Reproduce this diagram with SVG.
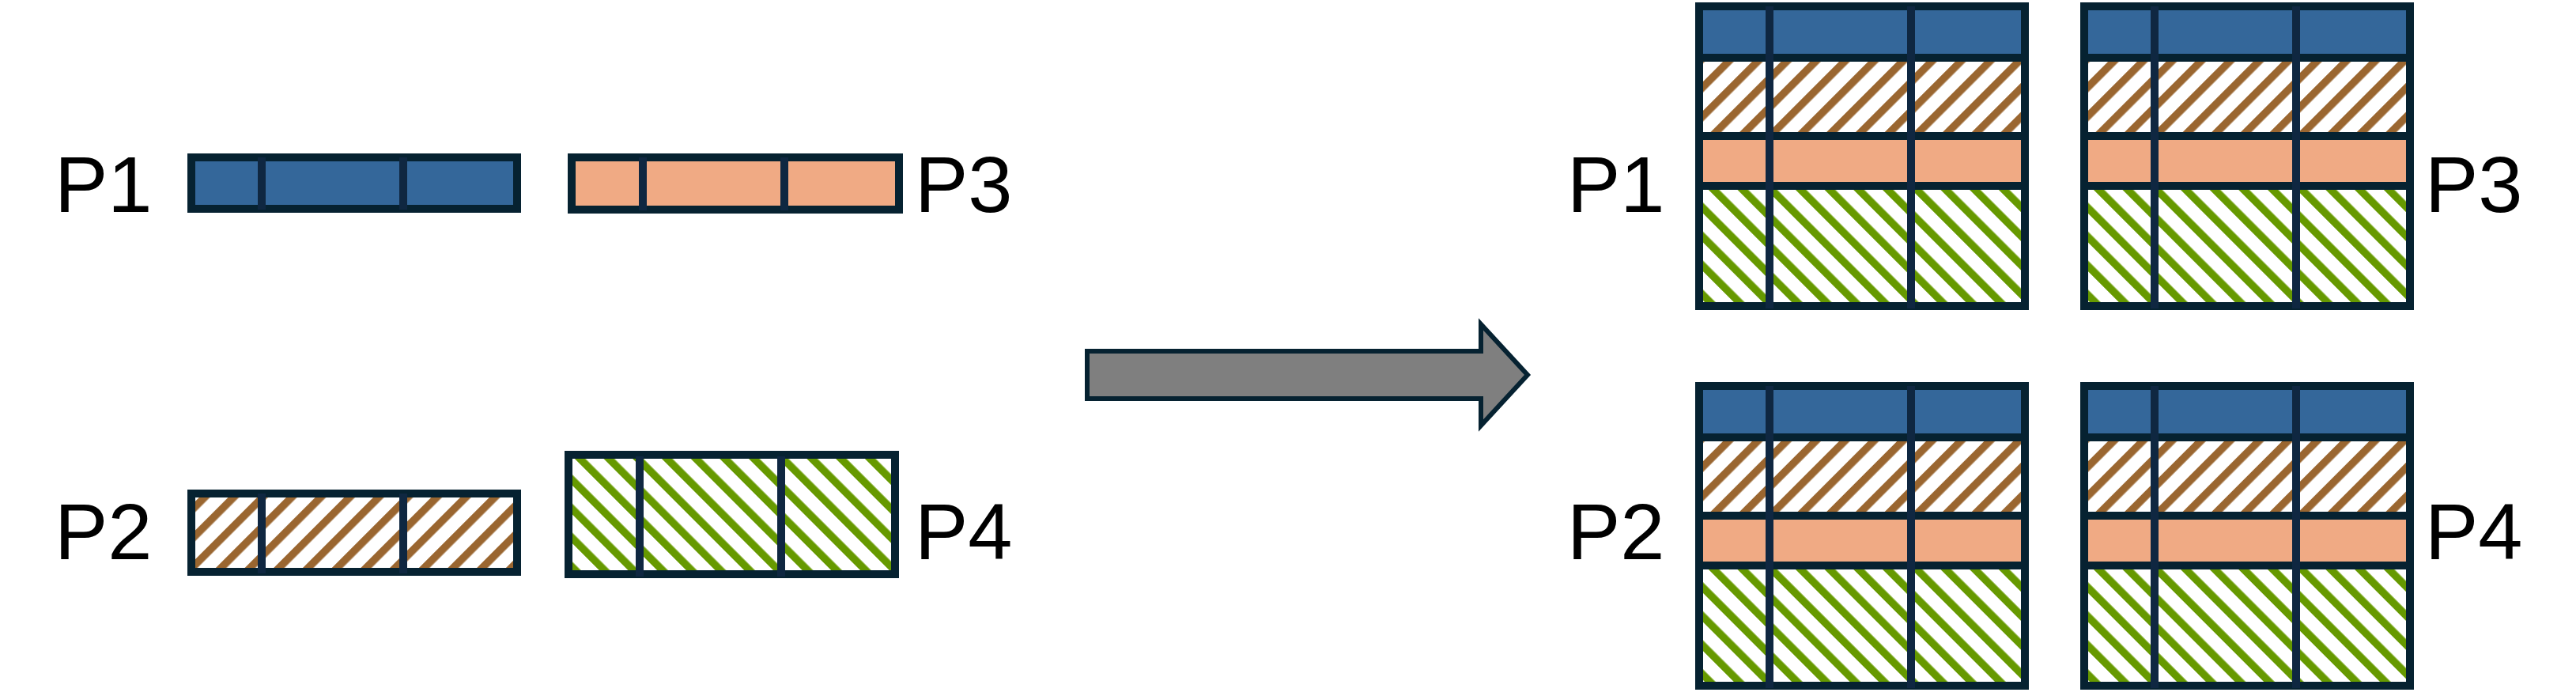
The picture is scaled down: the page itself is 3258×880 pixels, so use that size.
<svg xmlns="http://www.w3.org/2000/svg" xmlns:xlink="http://www.w3.org/1999/xlink" width="3258" height="880" viewBox="0 0 3258 880">
<style>
.lbl{font-family:"Liberation Sans",Arial,sans-serif;font-size:101px;fill:#000}
.border{fill:none;stroke:#062231;stroke-width:10}
.sep{stroke:#062231;stroke-width:10}
.div{stroke:#0f2741;stroke-width:10}
.blue{fill:#34679a}
.orange{fill:#f0aa84}
.brown{fill:url(#hatchBrown)}
.green{fill:url(#hatchGreen)}
</style>
<defs>
<pattern id="hatchBrown" patternUnits="userSpaceOnUse" width="25.95" height="25.95" patternTransform="rotate(45)">
<rect width="25.95" height="25.95" fill="#fff"/>
<rect x="0" y="0" width="9.6" height="25.95" fill="#9a6630"/>
</pattern>
<pattern id="hatchGreen" patternUnits="userSpaceOnUse" width="25.95" height="25.95" patternTransform="rotate(-45)">
<rect width="25.95" height="25.95" fill="#fff"/>
<rect x="0" y="0" width="9.6" height="25.95" fill="#669900"/>
</pattern>
<g id="grid">
<rect class="blue" x="5" y="5" width="412" height="65"/>
<rect class="brown" x="5" y="70" width="412" height="99"/>
<rect class="orange" x="5" y="169" width="412" height="63"/>
<rect class="green" x="5" y="232" width="412" height="152"/>
<line class="sep" x1="5" y1="70" x2="417" y2="70"/>
<line class="sep" x1="5" y1="169" x2="417" y2="169"/>
<line class="sep" x1="5" y1="232" x2="417" y2="232"/>
<rect class="border" x="5" y="5" width="412" height="379"/>
<line class="div" x1="94" y1="5" x2="94" y2="387"/>
<line class="div" x1="273" y1="5" x2="273" y2="387"/>
</g>
</defs>
<rect width="3258" height="880" fill="#fff"/>

<g id="node-p1-bar">
<rect class="blue" x="242" y="199" width="412" height="65"/>
<rect class="border" x="242" y="199" width="412" height="65"/>
<line class="div" x1="331" y1="199" x2="331" y2="265"/>
<line class="div" x1="510" y1="199" x2="510" y2="265"/>
<text class="lbl" x="69" y="268">P1</text>
</g>

<g id="node-p3-bar">
<rect class="orange" x="723" y="199" width="414" height="66"/>
<rect class="border" x="723" y="199" width="414" height="66"/>
<line class="div" x1="813" y1="199" x2="813" y2="266"/>
<line class="div" x1="992" y1="199" x2="992" y2="266"/>
<text class="lbl" x="1157" y="268">P3</text>
</g>

<g id="node-p2-bar">
<rect class="brown" x="242" y="624" width="412" height="99"/>
<rect class="border" x="242" y="624" width="412" height="99"/>
<line class="div" x1="331" y1="624" x2="331" y2="725"/>
<line class="div" x1="510" y1="624" x2="510" y2="725"/>
<text class="lbl" x="69" y="707">P2</text>
</g>

<g id="node-p4-bar">
<rect class="green" x="719" y="575" width="413" height="151"/>
<rect class="border" x="719" y="575" width="413" height="151"/>
<line class="div" x1="809" y1="577" x2="809" y2="729"/>
<line class="div" x1="988" y1="577" x2="988" y2="729"/>
<text class="lbl" x="1157" y="707">P4</text>
</g>

<g id="connectors">
<polygon points="1375,444 1873,444 1873,410 1932,474 1873,538 1873,504 1375,504" fill="#7f7f7f" stroke="#062231" stroke-width="6" stroke-linejoin="miter"/>
</g>

<g id="node-p1-grid">
<use xlink:href="#grid" href="#grid" x="2144" y="3"/>
<text class="lbl" x="1982" y="268">P1</text>
</g>
<g id="node-p3-grid">
<use xlink:href="#grid" href="#grid" x="2631" y="3"/>
<text class="lbl" x="3067" y="268">P3</text>
</g>
<g id="node-p2-grid">
<use xlink:href="#grid" href="#grid" x="2144" y="483"/>
<text class="lbl" x="1982" y="707">P2</text>
</g>
<g id="node-p4-grid">
<use xlink:href="#grid" href="#grid" x="2631" y="483"/>
<text class="lbl" x="3067" y="707">P4</text>
</g>
</svg>
